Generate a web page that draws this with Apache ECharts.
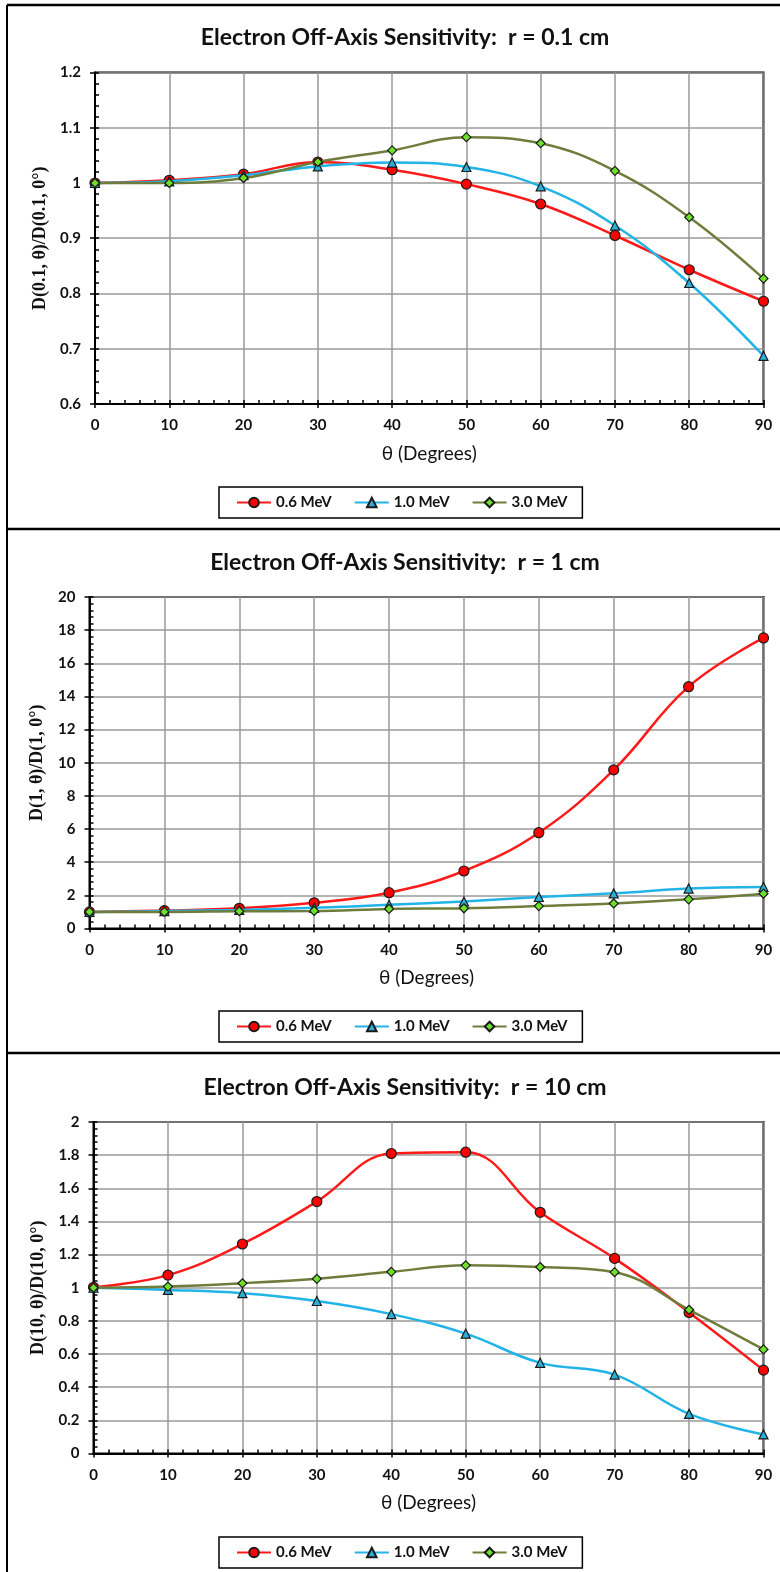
<!DOCTYPE html>
<html>
<head>
<meta charset="utf-8">
<script src="https://cdn.jsdelivr.net/npm/echarts@6.0.0/dist/echarts.min.js"></script>
<style>
  html, body { margin: 0; padding: 0; background: #fff; }
  #chart { width: 780px; height: 1572px; }
</style>
</head>
<body>
<div id="chart"></div>
<script>
// angles (degrees) shared by every panel
const angles = [0, 10, 20, 30, 40, 50, 60, 70, 80, 90];
const seriesNames = ['0.6 MeV', '1.0 MeV', '3.0 MeV'];

// r = 0.1 cm
const r01_06 = [1.000, 1.005, 1.016, 1.038, 1.024, 0.998, 0.962, 0.905, 0.843, 0.786];
const r01_10 = [1.000, 1.003, 1.014, 1.030, 1.037, 1.029, 0.994, 0.923, 0.819, 0.687];
const r01_30 = [1.000, 1.000, 1.009, 1.038, 1.059, 1.083, 1.072, 1.022, 0.938, 0.827];

// r = 1 cm
const r1_06 = [1.00, 1.08, 1.22, 1.55, 2.16, 3.47, 5.78, 9.57, 14.59, 17.53];
const r1_10 = [1.00, 1.05, 1.12, 1.25, 1.43, 1.63, 1.90, 2.12, 2.41, 2.51];
const r1_30 = [1.00, 1.00, 1.04, 1.06, 1.18, 1.22, 1.35, 1.51, 1.76, 2.10];

// r = 10 cm
const r10_06 = [1.003, 1.076, 1.264, 1.520, 1.810, 1.818, 1.455, 1.177, 0.851, 0.503];
const r10_10 = [1.000, 0.987, 0.967, 0.920, 0.841, 0.723, 0.547, 0.476, 0.239, 0.115];
const r10_30 = [1.000, 1.007, 1.027, 1.054, 1.096, 1.135, 1.125, 1.094, 0.867, 0.628];

const panels = [
  { title: 'Electron Off-Axis Sensitivity:  r = 0.1 cm', yName: 'D(0.1, \u03b8)/D(0.1, 0\u00b0)',
    yMin: 0.6, yMax: 1.2, yStep: 0.1, left: 95, top: 72.5, titleTop: 21, legendTop: 487,
    values: [r01_06, r01_10, r01_30] },
  { title: 'Electron Off-Axis Sensitivity:  r = 1 cm', yName: 'D(1, \u03b8)/D(1, 0\u00b0)',
    yMin: 0, yMax: 20, yStep: 2, left: 89.5, top: 597, titleTop: 546, legendTop: 1011,
    values: [r1_06, r1_10, r1_30] },
  { title: 'Electron Off-Axis Sensitivity:  r = 10 cm', yName: 'D(10, \u03b8)/D(10, 0\u00b0)',
    yMin: 0, yMax: 2, yStep: 0.2, left: 93.5, top: 1122, titleTop: 1071, legendTop: 1537,
    values: [r10_06, r10_10, r10_30] }
];

const lineColors = ['#ff1a1a', '#22b4e6', '#6f7d3c'];
const markColors = ['#ff0000', '#2ab0d8', '#6ee02a'];
const markShapes = ['circle', 'triangle', 'diamond'];
const markSizes = [10, 9, 9];
const font = 'Lato, "Open Sans", sans-serif';

const chart = echarts.init(document.getElementById('chart'));

const option = {
  backgroundColor: '#fff',
  animation: false,
  title: [], grid: [], xAxis: [], yAxis: [], legend: [], series: [],
  graphic: []
};

panels.forEach((p, i) => {
  option.title.push({
    text: p.title, left: 400, textAlign: 'center', top: p.titleTop,
    textStyle: { fontFamily: font, fontSize: 23, fontWeight: 'bold', color: '#111' }
  });
  option.grid.push({
    left: p.left, right: 16.5, top: p.top, height: 331.5,
    show: true, borderColor: '#000', borderWidth: 2, backgroundColor: 'transparent'
  });

  // main axes: labels, grid lines, outward major ticks
  option.xAxis.push({
    type: 'value', gridIndex: i, min: 0, max: 90, interval: 10,
    name: '\u03b8 (Degrees)', nameLocation: 'middle', nameGap: 40,
    nameTextStyle: { fontFamily: font, fontSize: 19, color: '#111' },
    axisLine: { lineStyle: { color: '#000', width: 2 } },
    axisTick: { length: 4, lineStyle: { color: '#000', width: 1.5 } },
    axisLabel: { margin: 14, fontFamily: font, fontSize: 15, fontWeight: 'bold', color: '#111' },
    splitLine: { lineStyle: { color: '#9a9a9a', width: 1.5 } }
  });
  option.yAxis.push({
    type: 'value', gridIndex: i, min: p.yMin, max: p.yMax, interval: p.yStep,
    name: p.yName, nameLocation: 'middle', nameGap: 43, nameRotate: 90,
    nameTextStyle: { fontFamily: '"Liberation Serif", serif', fontSize: 18, fontWeight: 'bold', color: '#111' },
    axisLine: { lineStyle: { color: '#000', width: 2 } },
    axisTick: { length: 5, lineStyle: { color: '#000', width: 1.5 } },
    axisLabel: { margin: 14, fontFamily: font, fontSize: 15, fontWeight: 'bold', color: '#111' },
    splitLine: { lineStyle: { color: '#9a9a9a', width: 1.5 } }
  });
});

// second set of axes only for the inside (minor) ticks
panels.forEach((p, i) => {
  option.xAxis.push({
    type: 'value', gridIndex: i, position: 'bottom', min: 0, max: 90, interval: 10,
    axisLine: { show: false }, axisLabel: { show: false }, splitLine: { show: false },
    axisTick: { inside: true, length: 4, lineStyle: { color: '#000', width: 1.5 } },
    minorTick: { show: true, splitNumber: 5, length: 4, lineStyle: { color: '#000', width: 1.5 } }
  });
  option.yAxis.push({
    type: 'value', gridIndex: i, position: 'left', min: p.yMin, max: p.yMax, interval: p.yStep,
    axisLine: { show: false }, axisLabel: { show: false }, splitLine: { show: false },
    axisTick: { inside: true, length: 4, lineStyle: { color: '#000', width: 1.5 } },
    minorTick: { show: true, splitNumber: 5, length: 4, lineStyle: { color: '#000', width: 1.5 } }
  });
});

panels.forEach((p, i) => {
  option.legend.push({
    data: seriesNames, left: 219, top: p.legendTop, orient: 'horizontal',
    itemWidth: 34, itemHeight: 12, itemGap: 22,
    padding: [8, 15, 8, 17],
    borderColor: '#000', borderWidth: 1.5,
    textStyle: { fontFamily: font, fontSize: 15, fontWeight: 'bold', color: '#111' },
    selectedMode: false
  });
  p.values.forEach((vals, k) => {
    option.series.push({
      name: seriesNames[k], type: 'line', xAxisIndex: i, yAxisIndex: i,
      data: angles.map((a, j) => [a, vals[j]]),
      smooth: 0.4,
      symbol: markShapes[k], symbolSize: markSizes[k],
      lineStyle: { color: lineColors[k], width: 2.5 },
      itemStyle: { color: markColors[k], borderColor: '#1a1a1a', borderWidth: 1.2 },
      z: 3 + k
    });
  });
});

// panel frames
[5, 529, 1053].forEach(y => {
  option.graphic.push({ type: 'line', shape: { x1: 7, y1: y, x2: 780, y2: y },
    style: { stroke: '#000', lineWidth: 2.5 } });
});
option.graphic.push({ type: 'line', shape: { x1: 7, y1: 5, x2: 7, y2: 1572 },
  style: { stroke: '#000', lineWidth: 2 } });

chart.setOption(option);
</script>
</body>
</html>
